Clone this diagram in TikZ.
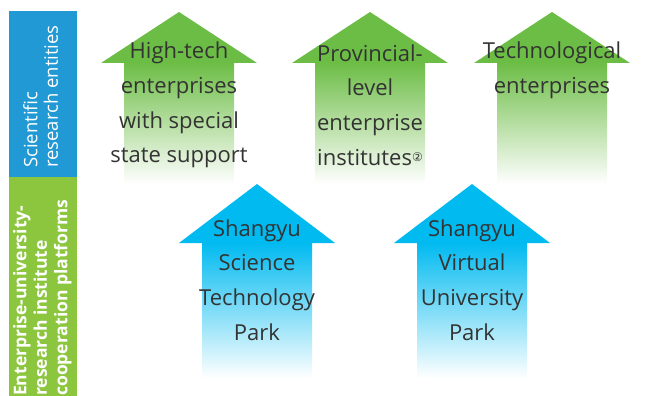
\documentclass[tikz,border=0pt]{standalone}
\usepackage{fontspec}
\setmainfont{Open Sans}
\newfontfamily\circfont{DejaVu Sans}
\usepackage{xcolor}
\usepackage{tikz}
\definecolor{bandblue}{RGB}{33,153,213}
\definecolor{bandgreen}{RGB}{140,198,63}
\definecolor{upgreen}{RGB}{108,189,69}
\definecolor{upblue}{RGB}{0,186,240}
\definecolor{labelgray}{RGB}{51,51,51}
\tikzset{>=latex,
    entity/.style={text=labelgray, align=center, inner sep=0pt, font=\fontsize{22}{34.7}\selectfont},
    bandlabel/.style={text=white, align=left, inner sep=0pt, rotate=90, anchor=north west, font=\fontsize{18.5}{20.5}\selectfont}}

\begin{document}
\begin{tikzpicture}[x=1pt, y=-1pt]
  \useasboundingbox (0,0) rectangle (667,396);
  % side bands
  \fill[bandblue] (9,11) rectangle (77,177);
  \fill[bandgreen] (9,177) rectangle (77,396);
  \node[bandlabel] (scient) at (23,168) {Scientific\\research entities};
  \node[bandlabel, font=\fontsize{17.5}{20.5}\selectfont\bfseries] (coop) at (13,396) {Enterprise-university-\\research institute\\cooperation platforms};
  % arrows: centre/tip/shoulder/foot/colour
  \foreach \cx/\tip/\sh/\foot/\col in {179/12/63/184/upgreen, 370/12/63/184/upgreen, 552/12/63/184/upgreen, 257/184/243/378/upblue, 472/184/243/378/upblue} {
    \fill[\col] (\cx-78,\sh) -- (\cx,\tip) -- (\cx+78,\sh) -- cycle;
    \shade[top color=\col, bottom color=white] (\cx-55,\sh-0.5) rectangle (\cx+55,\foot);
  }
  \node[entity] (hightech) at (179,105) {High-tech\\enterprises\\with special\\state support};
  \node[entity] (provincial) at (370,105) {Provincial-\\level\\enterprise\\institutes{\circfont\fontsize{12}{12}\selectfont\raisebox{0.6ex}{②}}};
  \node[entity] (techent) at (552,70) {Technological\\enterprises};
  \node[entity] (scipark) at (257,280) {Shangyu\\Science\\Technology\\Park};
  \node[entity] (virtual) at (472,280) {Shangyu\\Virtual\\University\\Park};
\end{tikzpicture}
\end{document}
